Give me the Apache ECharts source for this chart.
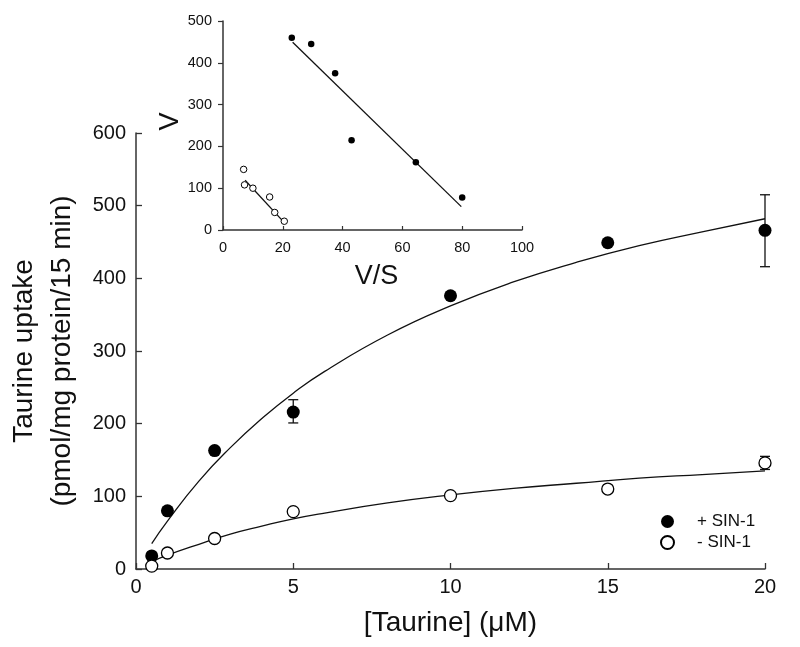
<!DOCTYPE html>
<html><head><meta charset="utf-8">
<script src="https://cdn.jsdelivr.net/npm/echarts@6/dist/echarts.min.js"></script>
<style>html,body{margin:0;padding:0;background:#fff}#c{width:800px;height:647px}</style>
</head><body><div id="c"></div>
<script>
// Main plot data
const taurine = [0.5, 1, 2.5, 5, 10, 15, 20];
const plusSIN = [18, 80, 163, 216, 376, 449, 466];
const minusSIN = [4, 22, 42, 79, 101, 110, 146];
const plusErr = [[5, 201, 233], [20, 416, 515]];
const minusErr = [[20, 137, 155]];
// Fitted curves
const fitX = [0.5, 1, 2, 3, 4, 5, 6, 8, 10, 12, 14, 16, 18, 20];
const plusFit = [35, 66, 121, 167, 207, 242, 272, 322, 362, 395, 422, 445, 464, 482];
const minusFit = [10, 19, 34, 48, 59, 69, 77, 91, 102, 111, 118, 125, 130, 135];
// Inset (Eadie-Hofstee) data
const insetPlusVS = [23, 29.5, 37.5, 43, 64.5, 80];
const insetPlusV = [460, 445, 375, 215, 162, 78];
const insetMinusVS = [6.9, 7.2, 10, 15.6, 17.3, 20.5];
const insetMinusV = [145, 108, 100, 79, 42, 21];
const insetPlusLineX = [23.3, 79.7];
const insetPlusLineY = [449, 56];
const insetMinusLineX = [7.4, 20.2];
const insetMinusLineY = [119, 20];
// Ticks
const mainXTicks = [0, 5, 10, 15, 20];
const mainYTicks = [0, 100, 200, 300, 400, 500, 600];
const insetXTicks = [0, 20, 40, 60, 80, 100];
const insetYTicks = [0, 100, 200, 300, 400, 500];

const FONT = 'Liberation Sans, Arial, sans-serif';
const INK = '#111';
const zip = (a, b) => a.map((v, i) => [v, b[i]]);

function errRender(params, api) {
  const x = api.value(0);
  const lo = api.coord([x, api.value(1)]);
  const hi = api.coord([x, api.value(2)]);
  const cw = 5;
  const st = {stroke: INK, lineWidth: 1.3};
  return {type: 'group', children: [
    {type: 'line', shape: {x1: lo[0], y1: lo[1], x2: hi[0], y2: hi[1]}, style: st},
    {type: 'line', shape: {x1: lo[0]-cw, y1: lo[1], x2: lo[0]+cw, y2: lo[1]}, style: st},
    {type: 'line', shape: {x1: hi[0]-cw, y1: hi[1], x2: hi[0]+cw, y2: hi[1]}, style: st}
  ]};
}

const axisLine = {show: true, lineStyle: {color: '#333', width: 1.5}};
const chart = echarts.init(document.getElementById('c'));
chart.setOption({
  backgroundColor: '#fff',
  animation: false,
  textStyle: {fontFamily: FONT},
  grid: [
    {left: 136, top: 133, width: 629, height: 436, containLabel: false, outerBoundsMode: 'none'},
    {left: 223, top: 21, width: 299, height: 209, containLabel: false, outerBoundsMode: 'none'}
  ],
  xAxis: [
    {gridIndex: 0, type: 'value', min: mainXTicks[0], max: mainXTicks[mainXTicks.length-1], interval: 5,
     axisLine: axisLine, axisTick: {show: true, inside: true, length: 6, lineStyle: {color: '#333', width: 1.3}},
     splitLine: {show: false},
     axisLabel: {fontSize: 20, color: INK, margin: 8, fontFamily: FONT},
     name: '[Taurine] (\u03bcM)', nameLocation: 'middle', nameGap: 40,
     nameTextStyle: {fontSize: 28, color: INK, fontFamily: FONT}},
    {gridIndex: 1, type: 'value', min: insetXTicks[0], max: insetXTicks[insetXTicks.length-1], interval: 20,
     axisLine: axisLine, axisTick: {show: true, inside: true, length: 4, lineStyle: {color: '#333', width: 1.2}},
     splitLine: {show: false},
     axisLabel: {fontSize: 14.5, color: INK, margin: 10, fontFamily: FONT},
     name: 'V/S', nameLocation: 'middle', nameGap: 33,
     nameTextStyle: {fontSize: 27, color: INK, fontFamily: FONT, padding: [0, 0, 0, 8]}},
  ],
  yAxis: [
    {gridIndex: 0, type: 'value', min: mainYTicks[0], max: mainYTicks[mainYTicks.length-1], interval: 100,
     axisLine: axisLine, axisTick: {show: true, inside: true, length: 6, lineStyle: {color: '#333', width: 1.3}},
     splitLine: {show: false},
     axisLabel: {fontSize: 20, color: INK, margin: 10, fontFamily: FONT},
     name: 'Taurine uptake\n(pmol/mg protein/15 min)', nameLocation: 'middle', nameGap: 54, nameRotate: 90,
     nameTextStyle: {fontSize: 28, color: INK, lineHeight: 38, fontFamily: FONT}},
    {gridIndex: 1, type: 'value', min: insetYTicks[0], max: insetYTicks[insetYTicks.length-1], interval: 100,
     axisLine: axisLine, axisTick: {show: true, inside: false, length: 5, lineStyle: {color: '#333', width: 1.2}},
     splitLine: {show: false},
     axisLabel: {fontSize: 14.5, color: INK, margin: 11, fontFamily: FONT},
     name: 'V', nameLocation: 'middle', nameGap: 39, nameRotate: 90,
     nameTextStyle: {fontSize: 27, color: INK, fontFamily: FONT, padding: [0, 0, 0, 8]}}
  ],
  legend: {
    data: ['+ SIN-1', '- SIN-1'], orient: 'vertical', left: 655, top: 508,
    itemWidth: 13, itemHeight: 13, itemGap: 4,
    textStyle: {fontSize: 17, color: INK, fontFamily: FONT, padding: [0, 0, 0, 18]}
  },
  series: [
    {name: 'fit+', type: 'line', xAxisIndex: 0, yAxisIndex: 0, data: zip(fitX, plusFit), smooth: true,
     showSymbol: false, lineStyle: {color: INK, width: 1.3}, z: 2},
    {name: 'fit-', type: 'line', xAxisIndex: 0, yAxisIndex: 0, data: zip(fitX, minusFit), smooth: true,
     showSymbol: false, lineStyle: {color: INK, width: 1.3}, z: 2},
    {name: 'err+', type: 'custom', xAxisIndex: 0, yAxisIndex: 0, data: plusErr, renderItem: errRender, z: 3},
    {name: 'err-', type: 'custom', xAxisIndex: 0, yAxisIndex: 0, data: minusErr, renderItem: errRender, z: 3},
    {name: '+ SIN-1', type: 'scatter', xAxisIndex: 0, yAxisIndex: 0, data: zip(taurine, plusSIN),
     symbol: 'circle', symbolSize: 13, itemStyle: {color: '#000', borderColor: '#000', borderWidth: 0, opacity: 1}, z: 5},
    {name: '- SIN-1', type: 'scatter', xAxisIndex: 0, yAxisIndex: 0, data: zip(taurine, minusSIN),
     symbol: 'circle', symbolSize: 12, itemStyle: {color: '#fff', borderColor: '#000', borderWidth: 1.3, opacity: 1}, z: 5},
    {name: 'iline+', type: 'line', xAxisIndex: 1, yAxisIndex: 1, data: zip(insetPlusLineX, insetPlusLineY),
     showSymbol: false, lineStyle: {color: INK, width: 1.3}, z: 2},
    {name: 'iline-', type: 'line', xAxisIndex: 1, yAxisIndex: 1, data: zip(insetMinusLineX, insetMinusLineY),
     showSymbol: false, lineStyle: {color: INK, width: 1.3}, z: 2},
    {name: 'i+', type: 'scatter', xAxisIndex: 1, yAxisIndex: 1, data: zip(insetPlusVS, insetPlusV),
     symbol: 'circle', symbolSize: 6.5, itemStyle: {color: '#000', opacity: 1}, z: 5},
    {name: 'i-', type: 'scatter', xAxisIndex: 1, yAxisIndex: 1, data: zip(insetMinusVS, insetMinusV),
     symbol: 'circle', symbolSize: 6.5, itemStyle: {color: '#fff', borderColor: '#000', borderWidth: 1, opacity: 1}, z: 5}
  ]
});
</script></body></html>
